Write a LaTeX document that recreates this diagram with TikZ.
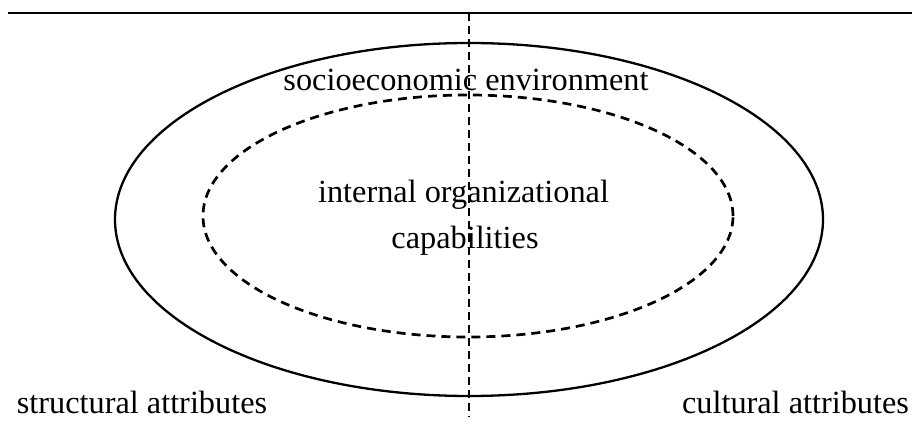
\documentclass[tikz,border=0pt]{standalone}
\usepackage{fontspec}
\setmainfont{Liberation Serif}
\usetikzlibrary{positioning, shapes.geometric}
\tikzset{
	lbl/.append style={
		inner sep=0pt,
		anchor=base,
		font={\fontsize{32.3}{45}\selectfont}
	},
	ring/.append style={
		draw,
		ellipse,
		inner sep=0pt,
		line width=2.3pt,
	},
	dashring/.append style={
		ring,
		line width=2.7pt,
		dash pattern=on 9pt off 6pt,
	},
	divider/.append style={
		line width=2.5pt,
		dash pattern=on 8pt off 5pt,
	},
}
\begin{document}
\begin{tikzpicture}[x=1pt, y=1pt]
\useasboundingbox (0,0) rectangle (912,423);

\node(outer)[ring, minimum width=708pt, minimum height=353pt] at (469,203.5) {};
\node(inner)[dashring, minimum width=530pt, minimum height=242pt] at (468,207) {};

% top rule and the split
\coordinate(ruleL) at (8,410);
\coordinate(ruleR) at (912,410);
\draw[line width=2.8pt] (ruleL) -- (ruleR);
\coordinate(splitT) at (469,410);
\coordinate(splitB) at (469,6);
\draw[divider] (splitT) -- (splitB);

\node(socio)[lbl] at (466,332) {socioeconomic environment};
\node(intl)[lbl] at (463.5,220) {internal organizational};
\node(capab)[lbl] at (465,174) {capabilities};

\node(struct)[lbl] at (142,10) {structural attributes};
\node(cult)[lbl] at (795.5,10) {cultural attributes};
\end{tikzpicture}
\end{document}
